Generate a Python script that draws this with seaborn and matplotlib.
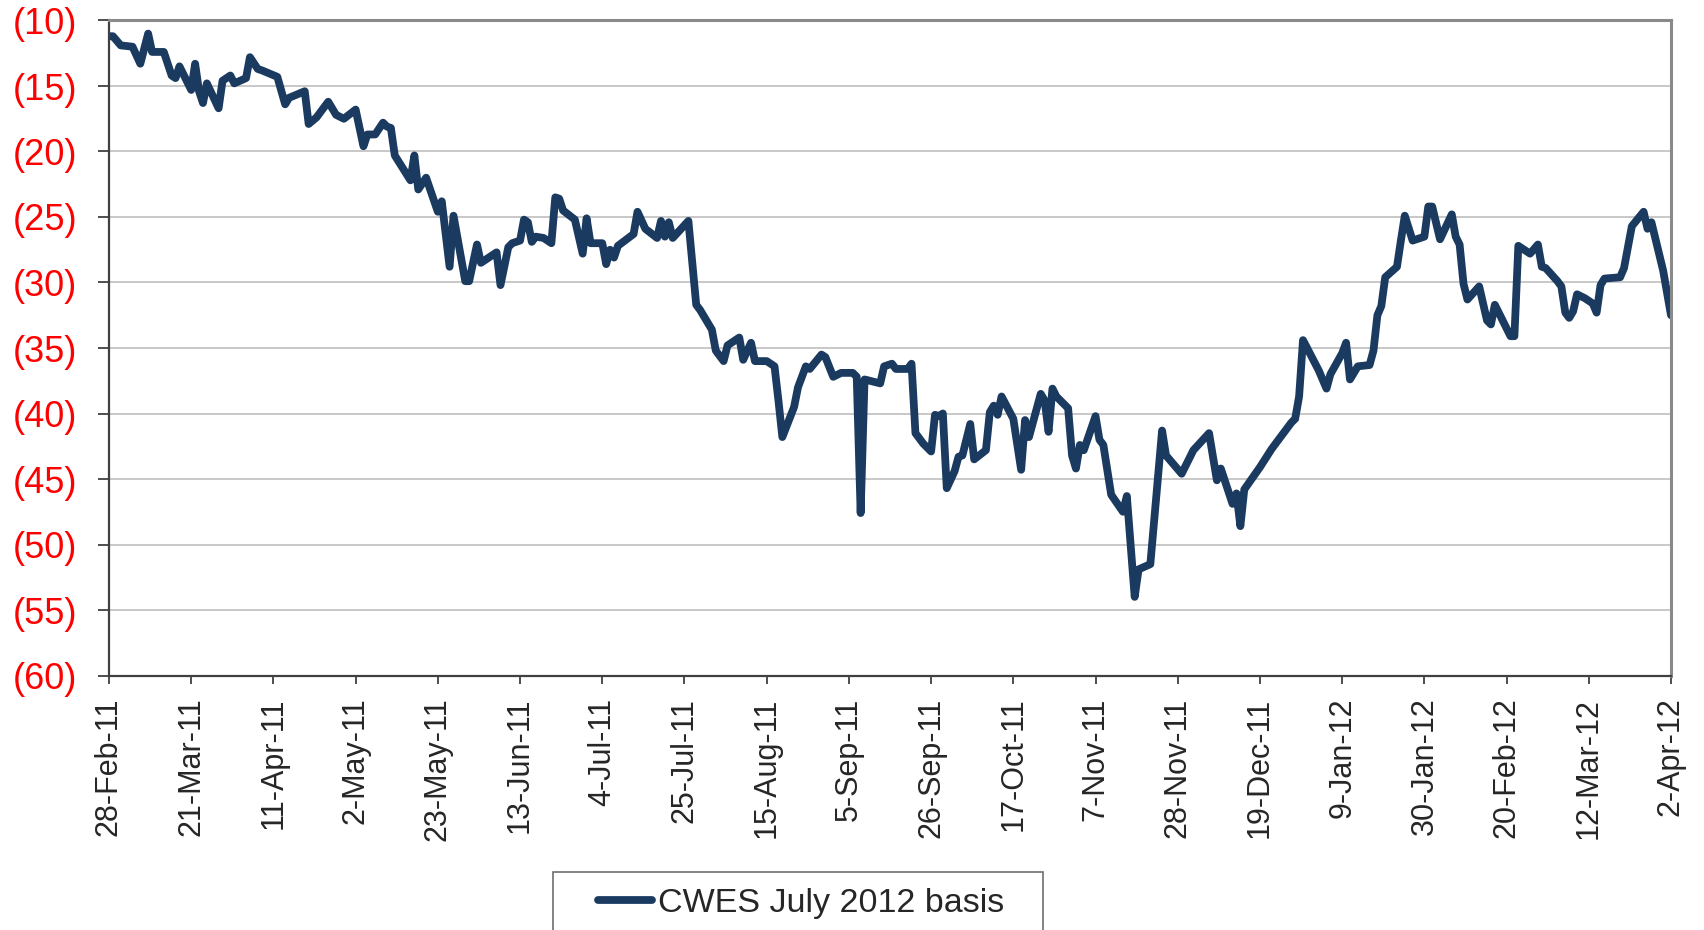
import pandas as pd
import matplotlib
matplotlib.use("Agg")
import matplotlib.pyplot as plt
import matplotlib.ticker as mticker
from matplotlib.patches import Rectangle
import seaborn as sns

# CWES July 2012 basis (days after 28-Feb-11, value)
start_date = "2011-02-28"
day_offsets = [
    0, 1, 3, 6, 8, 10, 11, 14, 16, 17, 18, 21, 22, 23, 24, 25, 28, 29, 31, 32,
    35, 36, 38, 39, 43, 45, 46, 50, 51, 53, 56, 58, 60, 63, 65, 66, 68, 70, 71, 72,
    73, 77, 78, 79, 81, 84, 85, 87, 88, 91, 92, 94, 95, 99, 100, 102, 103, 105, 106, 107,
    108, 109, 111, 113, 114, 115, 116, 119, 121, 122, 123, 126, 127, 128, 129, 130, 134, 135, 137, 140,
    141, 142, 143, 144, 148, 150, 151, 154, 155, 157, 158, 161, 162, 164, 165, 168, 170, 171, 172, 175,
    176, 178, 179, 182, 183, 185, 187, 190, 191, 192, 193, 197, 198, 200, 201, 204, 205, 206, 208, 210,
    211, 212, 213, 214, 216, 217, 218, 220, 221, 224, 225, 226, 227, 228, 231, 233, 234, 235, 238, 239,
    240, 241, 242, 245, 246, 247, 248, 249, 252, 253, 254, 256, 259, 260, 262, 263, 266, 269, 270, 274,
    277, 281, 283, 284, 287, 288, 289, 290, 294, 297, 302, 303, 304, 305, 309, 311, 312, 315, 316, 317,
    319, 322, 323, 324, 325, 326, 329, 330, 331, 333, 336, 337, 338, 340, 343, 344, 345, 346, 347, 350,
    352, 353, 354, 358, 359, 360, 363, 365, 366, 367, 370, 371, 372, 373, 374, 375, 377, 379, 380, 381,
    382, 386, 387, 389, 392, 393, 394, 397, 399,
]
basis = [
    -11.2, -11.2, -11.9, -12.0, -13.3, -11.0, -12.4, -12.4, -14.2, -14.4, -13.5, -15.3, -13.3, -15.4, -16.3, -14.8, -16.7, -14.6, -14.2, -14.8,
    -14.4, -12.8, -13.7, -13.8, -14.3, -16.4, -15.9, -15.4, -17.9, -17.4, -16.2, -17.2, -17.5, -16.8, -19.6, -18.7, -18.7, -17.8, -18.1, -18.2,
    -20.3, -22.2, -20.3, -22.9, -22.0, -24.6, -23.8, -28.8, -24.9, -29.9, -29.9, -27.1, -28.5, -27.7, -30.2, -27.3, -27.0, -26.8, -25.2, -25.4,
    -26.9, -26.5, -26.6, -27.0, -23.5, -23.6, -24.5, -25.2, -27.8, -25.1, -27.0, -27.0, -28.6, -27.5, -28.1, -27.2, -26.3, -24.6, -25.9, -26.6,
    -25.3, -26.5, -25.4, -26.6, -25.3, -31.7, -32.1, -33.6, -35.2, -36.0, -34.8, -34.2, -35.9, -34.6, -36.0, -36.0, -36.4, -39.0, -41.8, -39.5,
    -38.0, -36.4, -36.6, -35.5, -35.7, -37.2, -36.9, -36.9, -37.2, -47.6, -37.4, -37.7, -36.4, -36.2, -36.6, -36.6, -36.2, -41.5, -42.3, -42.9,
    -40.1, -40.2, -40.0, -45.7, -44.4, -43.3, -43.2, -40.8, -43.5, -42.8, -39.9, -39.4, -40.1, -38.7, -40.4, -44.3, -40.5, -41.8, -38.5, -39.0,
    -41.4, -38.1, -38.7, -39.6, -43.2, -44.2, -42.4, -42.8, -40.2, -42.0, -42.4, -46.2, -47.5, -46.3, -54.0, -51.9, -51.5, -41.3, -43.2, -44.6,
    -42.8, -41.5, -45.1, -44.2, -46.9, -46.1, -48.6, -45.8, -44.1, -42.7, -40.7, -40.4, -38.7, -34.4, -36.7, -38.1, -37.0, -35.4, -34.6, -37.4,
    -36.4, -36.3, -35.2, -32.5, -31.8, -29.6, -28.8, -26.8, -24.9, -26.8, -26.5, -24.2, -24.2, -26.7, -24.8, -26.5, -27.1, -30.1, -31.3, -30.3,
    -32.9, -33.2, -31.7, -34.1, -34.1, -27.2, -27.8, -27.1, -28.8, -28.9, -29.9, -30.3, -32.3, -32.7, -32.2, -30.9, -31.2, -31.6, -32.3, -30.2,
    -29.7, -29.6, -28.9, -25.7, -24.6, -25.9, -25.4, -29.1, -32.5,
]
series_name = "CWES July 2012 basis"

tick_labels = [
    "28-Feb-11", "21-Mar-11", "11-Apr-11", "2-May-11", "23-May-11", "13-Jun-11",
    "4-Jul-11", "25-Jul-11", "15-Aug-11", "5-Sep-11", "26-Sep-11", "17-Oct-11",
    "7-Nov-11", "28-Nov-11", "19-Dec-11", "9-Jan-12", "30-Jan-12", "20-Feb-12",
    "12-Mar-12", "2-Apr-12",
]
y_ticks = [-10, -15, -20, -25, -30, -35, -40, -45, -50, -55, -60]

df = pd.DataFrame({
    "date": pd.Timestamp(start_date) + pd.to_timedelta(day_offsets, unit="D"),
    "basis": basis,
})
tick_dates = pd.to_datetime(tick_labels, format="%d-%b-%y")

sns.set_style("white")
plt.rcParams["font.family"] = ["Liberation Sans", "DejaVu Sans"]

W, H = 1704, 930
fig = plt.figure(figsize=(W / 100, H / 100), dpi=100)
ax = fig.add_axes([109 / W, 1 - 675.5 / H, 1562 / W, 655 / H])

sns.lineplot(data=df, x="date", y="basis", ax=ax, color="#1b3a60",
             linewidth=5.6, label=series_name,
             solid_joinstyle="round", solid_capstyle="round")

ax.set_xlim(tick_dates[0], tick_dates[-1])
ax.set_ylim(-60, -10)
ax.set_xticks(tick_dates)
ax.set_xticklabels(tick_labels, rotation=90, fontsize=22)
ax.set_yticks(y_ticks)
ax.yaxis.set_major_formatter(mticker.FuncFormatter(lambda v, p: f"({abs(v):.0f})"))
ax.tick_params(axis="y", direction="out", length=8, width=1.2, color="#303030",
               labelsize=26, labelcolor="#ff0000", pad=15, left=True)
ax.tick_params(axis="x", direction="out", length=6, width=1.2, color="#303030",
               pad=10, bottom=True)
ax.set_xlabel("")
ax.set_ylabel("")

ax.grid(axis="y", color="#c4c4c4", linewidth=1.3)
ax.set_axisbelow(True)
for side in ["left", "bottom"]:
    ax.spines[side].set_color("#404040")
    ax.spines[side].set_linewidth(1.6)
for side in ["top", "right"]:
    ax.spines[side].set_color("#8a8a8a")
    ax.spines[side].set_linewidth(2.2)

# legend without its own frame, box drawn separately (cut by the bottom edge)
leg = ax.legend(loc="center left", bbox_to_anchor=(598 / W, 1 - 903 / H),
                bbox_transform=fig.transFigure, fontsize=24.5, frameon=False,
                borderpad=0, handlelength=1.6, handletextpad=0.15,
                borderaxespad=0)
fig.patches.append(Rectangle((552.7 / W, 1 - 952 / H), 490 / W, 80 / H,
                             transform=fig.transFigure, fill=False,
                             edgecolor="#6e6e6e", linewidth=1.2))

fig.savefig("out.png", dpi=100)
